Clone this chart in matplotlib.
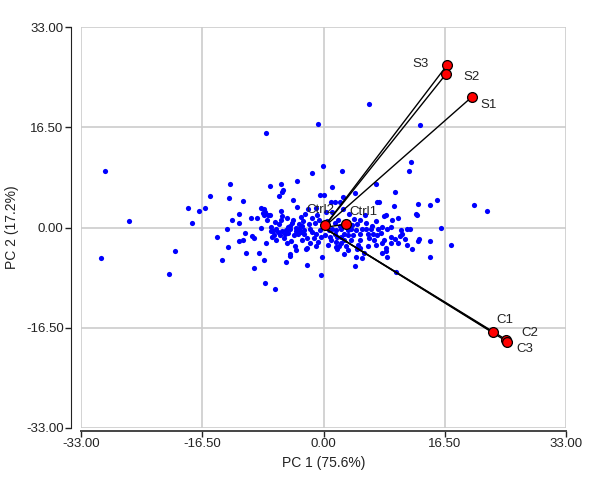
import matplotlib
matplotlib.use("Agg")
import matplotlib.pyplot as plt
import numpy as np

plt.rcParams['font.family'] = ['Liberation Sans', 'DejaVu Sans']

# scores (blue dots)
score_x = [-29.7, -26.5, -30.3, -21.0, -20.2, -18.4, -17.9, -16.9, -16.1, -15.5,
           -14.5, -13.8, -13.2, -13.0, -12.9, -12.7, -12.4, -11.5, -11.5, -11.5,
           -11.0, -11.0, -10.7, -10.5, -9.8, -9.7, -9.5, -9.4, -9.1, -8.8,
           -8.5, -8.5, -8.3, -8.1, -8.0, -8.1, -8.1, -7.9, -7.8, -7.7,
           -7.5, -7.3, -7.3, -7.2, -7.1, -6.6, -6.5, -6.1, -5.8, -5.6,
           -5.5, -5.8, -5.8, -5.6, -5.4, -5.2, -5.1, -5.1, -4.9, -4.8,
           -4.6, -4.5, -4.3, -4.6, -4.5, -4.2, -4.0, -3.9, -3.7, -3.6,
           -3.4, -3.4, -3.5, -3.6, -7.8,
           -6.2, -6.0, -5.9, -6.4, -6.8, -6.9, -4.4, -4.1, -3.8, -3.8,
           -5.0, -6.6, -7.0, -5.6, -4.8,
           -0.8, 6.2, 13.1,
           -0.1, -1.5, 2.5, 11.9, 11.7, 1.2, -0.5, 0.1, 2.6, 4.3,
           7.1, 9.7, 7.3, 7.6, 1.5, 2.3, 2.6, 1.0, -2.1, 9.6,
           12.9, 14.5, 15.4, 20.5, 22.3, 12.6, 12.7, 8.3, 8.5, 5.7,
           4.2, 7.1, 9.3, 10.2, 11.4, 11.8, 16.0, 17.4, 14.5, 14.5,
           13.0, 12.0, 10.4, 10.7, 10.5, 9.2, 8.7, 8.0, 7.4, 9.2,
           9.2, 9.7, 10.2, 8.5, 8.5, 8.6, 7.9, 8.2, 9.9, 8.0,
           7.1, 6.9, 6.7, 6.2, 6.0, 5.8, 6.4, 5.5, 5.3, 4.3,
           4.4, 4.5, 4.7, 5.0, 3.0, 3.3, 2.8, 1.7, 1.8, -0.4,
           -0.2, -2.3, -2.4, -2.2, 0.6, 1.0, 1.7, 2.4, 2.8, 3.7,
           4.0, 3.3, 2.4, 1.9,
           -2.6, -1.9, -1.5, -1.0, -0.5, 0.8, 1.2, 1.7, 2.4, 3.3,
           3.7, 4.4, 4.9, 5.3, 1.5, 2.8, -0.4, -1.3, -2.2, -2.9,
           -2.6, -2.0, -1.2, -0.6, -2.8, -1.6, -0.9, 0.5, 1.5, 2.0,
           2.3, 3.9, 4.6, 5.0, 5.8, 6.6, -2.5, -3.0, -1.0, 0.4,
           1.1, 3.5, -3.1, -2.9, 0.2, 0.9, -1.8, -0.8, 3.1, 4.9,
           6.0, 7.3, 7.8, 2.1, -1.0, 11.1, 11.3, 12.9]
score_y = [9.3, 1.0, -5.1, -7.7, -3.9, 3.2, 0.8, 2.7, 3.2, 5.2,
           -1.5, -5.3, -0.3, -3.2, 4.8, 7.1, 1.3, 2.2, 0.8, -2.2,
           -2.0, 4.4, -0.9, -4.2, 1.5, -1.4, -1.8, -6.7, 1.5, -4.2,
           3.2, -0.1, 2.4, 2.0, 2.6, 3.0, -5.3, -9.1, -2.5, 1.3,
           2.1, 2.1, 6.9, 0.1, -0.5, -10.2, -2.0, 5.2, 7.2, 5.9,
           6.1, 2.7, 1.2, 1.9, -1.8, -1.1, -0.4, -5.7, 1.6, 0.1,
           0.2, -0.2, 0.7, -4.7, -4.4, 4.5, -1.3, -3.1, -3.7, 7.6,
           0.5, -0.2, -1.0, 3.4, 15.5,
           -0.8, 0.5, -1.3, -0.3, -1.2, -0.6, -2.2, 1.3, 0.0, -0.6,
           -2.6, 0.9, -1.5, -0.6, -0.9,
           17.0, 20.3, 16.8,
           10.1, 9.0, 9.3, 10.7, 9.3, 6.6, 5.3, 5.3, 5.0, 5.6,
           7.2, 5.9, 4.2, 4.2, 4.2, 4.2, 3.0, 4.2, 3.0, 3.5,
           3.8, 3.7, 4.5, 3.7, 2.7, 2.3, 2.0, 1.9, 2.0, 2.0,
           1.4, 1.1, 1.2, 1.5, -0.2, -0.2, 0.0, -2.9, -2.2, -4.9,
           -1.9, -3.5, -1.4, -1.0, -0.4, 0.1, -0.2, 0.1, -0.2, -1.5,
           -2.6, -1.9, -2.5, -3.3, -3.8, -4.8, -2.5, -2.1, -7.4, -4.2,
           -2.9, -2.1, -1.0, -1.7, -1.0, -0.2, -0.2, -4.2, -5.0, -6.3,
           -4.8, -3.6, -2.9, -2.1, -3.1, -3.7, -4.3, -3.2, -3.6, -7.9,
           -4.9, -6.2, -3.6, -3.3, -2.9, -2.1, -2.4, -2.6, -2.1, -2.1,
           -1.3, -1.3, -1.5, -1.5,
           -0.4, -0.2, -0.7, -1.0, -0.4, -0.4, -0.2, -0.4, -0.2, -0.4,
           -0.2, -0.4, -1.0, -0.2, -1.0, -1.0, -1.5, -1.8, -1.8, -2.1,
           -1.0, 0.5, 0.8, 1.2, 1.0, 1.5, 2.0, 1.0, 0.8, 1.3,
           0.3, 0.4, 0.6, 1.2, 0.8, 0.3, 2.2, 1.8, 3.2, 2.6,
           2.5, 2.3, -0.7, 0.3, -1.2, -1.6, -2.6, -2.4, 0.9, -3.4,
           -3.0, -1.3, -0.9, -3.0, -3.0, -1.95, -2.8, -2.2]

# loadings (red circles)
load_names = ['S3', 'S2', 'S1', 'Ctrl2', 'Ctrl1', 'C1', 'C2', 'C3']
load_x = [16.8, 16.7, 20.2, 0.15, 3.1, 23.0, 24.9, 25.0]
load_y = [26.7, 25.3, 21.5, 0.4, 0.55, -17.2, -18.5, -18.8]
# label offsets in points
label_off = [(-19, 1), (18, -2), (12, -6), (-3, 11), (12, 9), (9, 9), (17, 5), (13, -5)]

ticks = [-33.0, -16.5, 0.0, 16.5, 33.0]

fig = plt.figure(figsize=(6, 4.78), dpi=100)
ax = fig.add_axes([81 / 600, 1 - 428 / 478, 485 / 600, 401 / 478])

for t in ticks:
    ax.axvline(t, color='#cccccc', lw=1.2, zorder=0)
    ax.axhline(t, color='#cccccc', lw=1.2, zorder=0)

ax.scatter(score_x, score_y, s=14, color='#0000ff', linewidths=0, zorder=2)

for x, y in zip(load_x, load_y):
    ax.plot([0, x], [0, y], color='black', lw=1, zorder=3)
ax.scatter(load_x, load_y, s=50, color='#ff0000', edgecolors='black',
           linewidths=0.9, zorder=4)
for name, x, y, off in zip(load_names, load_x, load_y, label_off):
    ax.annotate(name, (x, y), xytext=off, textcoords='offset points',
                ha='center', va='center', fontsize=9.5, color='#222222')

ax.set_xlim(-33, 33)
ax.set_ylim(-33, 33)
ax.set_xticks(ticks)
ax.set_yticks(ticks)
ax.set_xticklabels(['%.2f' % t for t in ticks])
ax.set_yticklabels(['%.2f' % t for t in ticks])
ax.tick_params(labelsize=9.5, length=4, width=1, pad=1.5, colors='#222222')

for s in ['top', 'right']:
    ax.spines[s].set_visible(False)
ax.spines['left'].set_position(('outward', 7))
ax.spines['bottom'].set_position(('outward', 2))
ax.spines['left'].set_color('#222222')
ax.spines['bottom'].set_color('#444444')
ax.spines['bottom'].set_linewidth(1.4)

ax.set_xlabel('PC 1 (75.6%)', fontsize=10, color='#222222', labelpad=4)
ax.set_ylabel('PC 2 (17.2%)', fontsize=10, color='#222222', labelpad=5)

fig.savefig('out.png', dpi=100)
